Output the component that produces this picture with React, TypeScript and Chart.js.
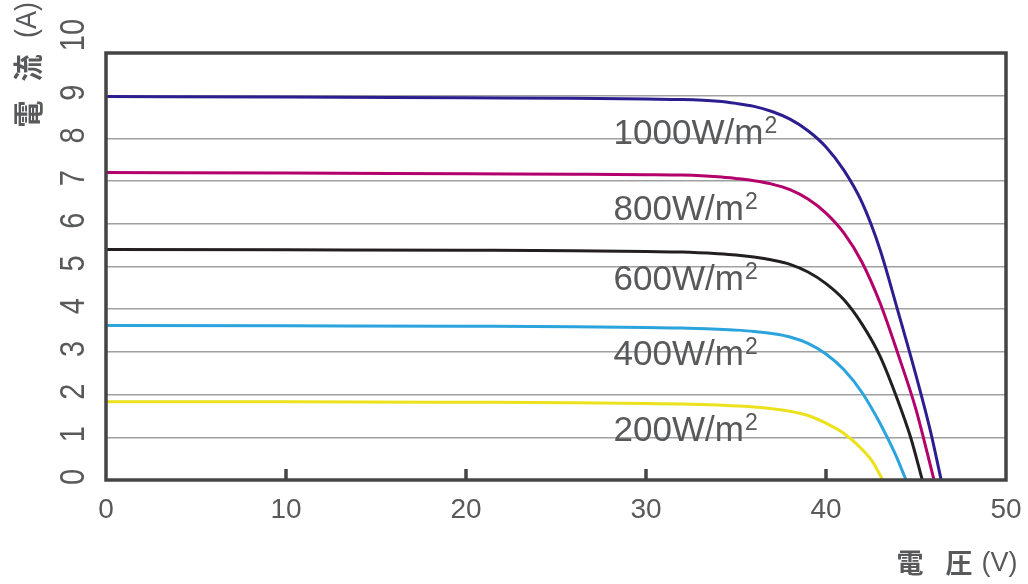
import { useEffect, useRef } from "react";
import { Chart, registerables } from "chart.js";

Chart.register(...registerables);

// ---- data ----
const SERIES_NAMES = ["1000W/m", "800W/m", "600W/m", "400W/m", "200W/m"];
const SERIES_COLORS = ["#2d1e90", "#b3006b", "#231f20", "#2ba3dd", "#ebe21d"];

const V_1000 = [0, 10, 20, 26, 30, 32, 34, 35, 36, 37, 38, 39, 40, 41, 42, 43, 44, 45, 45.8, 46.4];
const I_1000 = [8.98, 8.97, 8.95, 8.94, 8.92, 8.91, 8.87, 8.82, 8.75, 8.63, 8.45, 8.18, 7.8, 7.25, 6.5, 5.4, 3.95, 2.45, 1.15, 0];

const V_800 = [0, 10, 20, 26, 30, 32, 34, 35, 36, 37, 38, 39, 40, 41, 42, 43, 44, 45, 46.0];
const I_800 = [7.2, 7.19, 7.17, 7.16, 7.15, 7.14, 7.1, 7.06, 7.01, 6.93, 6.8, 6.58, 6.25, 5.78, 5.1, 4.15, 2.95, 1.65, 0];

const V_600 = [0, 10, 20, 26, 30, 32, 34, 35, 36, 37, 38, 39, 40, 41, 42, 43, 44, 44.7, 45.35];
const I_600 = [5.4, 5.39, 5.38, 5.37, 5.35, 5.34, 5.3, 5.27, 5.22, 5.15, 5.05, 4.87, 4.6, 4.22, 3.65, 2.9, 1.85, 1.0, 0];

const V_400 = [0, 10, 20, 26, 30, 32, 34, 35, 36, 37, 38, 39, 40, 41, 42, 43, 43.8, 44.45];
const I_400 = [3.62, 3.61, 3.6, 3.59, 3.57, 3.56, 3.53, 3.51, 3.48, 3.43, 3.35, 3.2, 2.95, 2.58, 2.05, 1.33, 0.65, 0];

const V_200 = [0, 10, 20, 26, 30, 32, 33, 34, 35, 36, 37, 38, 39, 40, 41, 42, 42.6, 43.15];
const I_200 = [1.83, 1.83, 1.82, 1.81, 1.79, 1.78, 1.77, 1.755, 1.735, 1.71, 1.67, 1.61, 1.51, 1.33, 1.09, 0.72, 0.42, 0];

const VOLTAGES = [V_1000, V_800, V_600, V_400, V_200];
const CURRENTS = [I_1000, I_800, I_600, I_400, I_200];

// label anchors (data units)
const LABEL_V = 28.2;
const LABEL_I = [7.87, 6.1, 4.44, 2.69, 0.91];

const X_MIN = 0, X_MAX = 50, X_STEP = 10;
const Y_MIN = 0, Y_MAX = 10, Y_STEP = 1;

const Y_TITLE_PARTS = ["電", "流", "(A)"];
const X_TITLE_PARTS = ["電", "圧", "(V)"];

const TEXT_COLOR = "#58595b";
const AXIS_COLOR = "#444444";
const GRID_COLOR = "#a0a0a0";
const LATIN = "'Liberation Sans', Arial, sans-serif";
const CJK = "'Noto Sans CJK JP', sans-serif";

const W = 1028, H = 584;

const overlay = {
  id: "overlay",
  afterDatasetsDraw(chart: any) {
    const { ctx, chartArea: a, scales } = chart;
    const x = scales.x, y = scales.y;
    ctx.save();
    // box
    ctx.strokeStyle = AXIS_COLOR;
    ctx.lineWidth = 3.5;
    ctx.strokeRect(a.left, a.top, a.right - a.left, a.bottom - a.top);
    // inner tick marks on x axis
    x.ticks.forEach((t: any) => {
      if (t.value > X_MIN && t.value < X_MAX) {
        const px = x.getPixelForValue(t.value);
        ctx.beginPath();
        ctx.moveTo(px, a.bottom);
        ctx.lineTo(px, a.bottom - 11);
        ctx.stroke();
      }
    });

    ctx.fillStyle = TEXT_COLOR;
    // x tick labels
    ctx.font = `28px ${LATIN}`;
    ctx.textAlign = "center";
    ctx.textBaseline = "alphabetic";
    x.ticks.forEach((t: any) => {
      ctx.fillText(String(t.value), x.getPixelForValue(t.value), a.bottom + 38);
    });

    // y tick labels (rotated, stretched)
    ctx.font = `29px ${LATIN}`;
    y.ticks.forEach((t: any) => {
      const py = y.getPixelForValue(t.value);
      const off = t.value === Y_MAX ? 18 : 3;
      ctx.save();
      ctx.translate(a.left - 32, py - off);
      ctx.rotate(-Math.PI / 2);
      ctx.scale(1, 1.2);
      ctx.textAlign = "center";
      ctx.textBaseline = "middle";
      ctx.fillText(String(t.value), 0, 0);
      ctx.restore();
    });

    // y title
    const yTitlePos = [114, 68, 20];
    Y_TITLE_PARTS.forEach((s, i) => {
      ctx.save();
      ctx.translate(28, yTitlePos[i]);
      ctx.rotate(-Math.PI / 2);
      ctx.scale(1, 1.1);
      ctx.textAlign = "center";
      ctx.textBaseline = "middle";
      ctx.font = i < 2 ? `bold 27px ${CJK}` : `27px ${LATIN}`;
      ctx.fillText(s, 0, 0);
      ctx.restore();
    });

    // x title
    const xTitlePos = [910, 959, 999.5];
    X_TITLE_PARTS.forEach((s, i) => {
      ctx.textAlign = "center";
      ctx.textBaseline = i < 2 ? "middle" : "alphabetic";
      ctx.font = i < 2 ? `bold 27px ${CJK}` : `27px ${LATIN}`;
      ctx.fillText(s, xTitlePos[i], i < 2 ? 563 : 571);
    });

    // series labels
    ctx.textAlign = "left";
    ctx.textBaseline = "alphabetic";
    SERIES_NAMES.forEach((name, i) => {
      const px = x.getPixelForValue(LABEL_V);
      const py = y.getPixelForValue(LABEL_I[i]);
      ctx.font = `35px ${LATIN}`;
      ctx.fillText(name, px, py);
      const w = ctx.measureText(name).width;
      ctx.font = `23px ${LATIN}`;
      ctx.fillText("2", px + w + 1, py - 11);
    });
    ctx.restore();
  },
};

export default function App() {
  const ref = useRef<HTMLCanvasElement | null>(null);
  useEffect(() => {
    document.body.style.margin = "0";
    const canvas = ref.current;
    if (!canvas) return;
    const datasets = SERIES_NAMES.map((name, i) => ({
      label: name + "2",
      data: VOLTAGES[i].map((v, k) => ({ x: v, y: CURRENTS[i][k] })),
      borderColor: SERIES_COLORS[i],
      backgroundColor: SERIES_COLORS[i],
      borderWidth: 3,
      pointRadius: 0,
      fill: false,
      cubicInterpolationMode: "monotone" as const,
    }));
    const chart = new Chart(canvas, {
      type: "line",
      data: { datasets },
      options: {
        responsive: false,
        animation: false,
        layout: { padding: { left: 106, right: 22, top: 53, bottom: 104 } },
        plugins: { legend: { display: false }, tooltip: { enabled: false } },
        scales: {
          x: {
            type: "linear",
            min: X_MIN,
            max: X_MAX,
            ticks: { stepSize: X_STEP, display: false },
            grid: { display: false, drawTicks: false },
            border: { display: false },
          },
          y: {
            type: "linear",
            min: Y_MIN,
            max: Y_MAX,
            ticks: { stepSize: Y_STEP, display: false },
            grid: {
              color: GRID_COLOR,
              lineWidth: 1.5,
              drawTicks: false,
            },
            border: { display: false },
          },
        },
      },
      plugins: [overlay],
    });
    return () => chart.destroy();
  }, []);
  return (
    <div style={{ position: "absolute", left: 0, top: 0, width: W, height: H, background: "#fff" }}>
      <canvas ref={ref} width={W} height={H} style={{ display: "block", width: W, height: H }} />
    </div>
  );
}
